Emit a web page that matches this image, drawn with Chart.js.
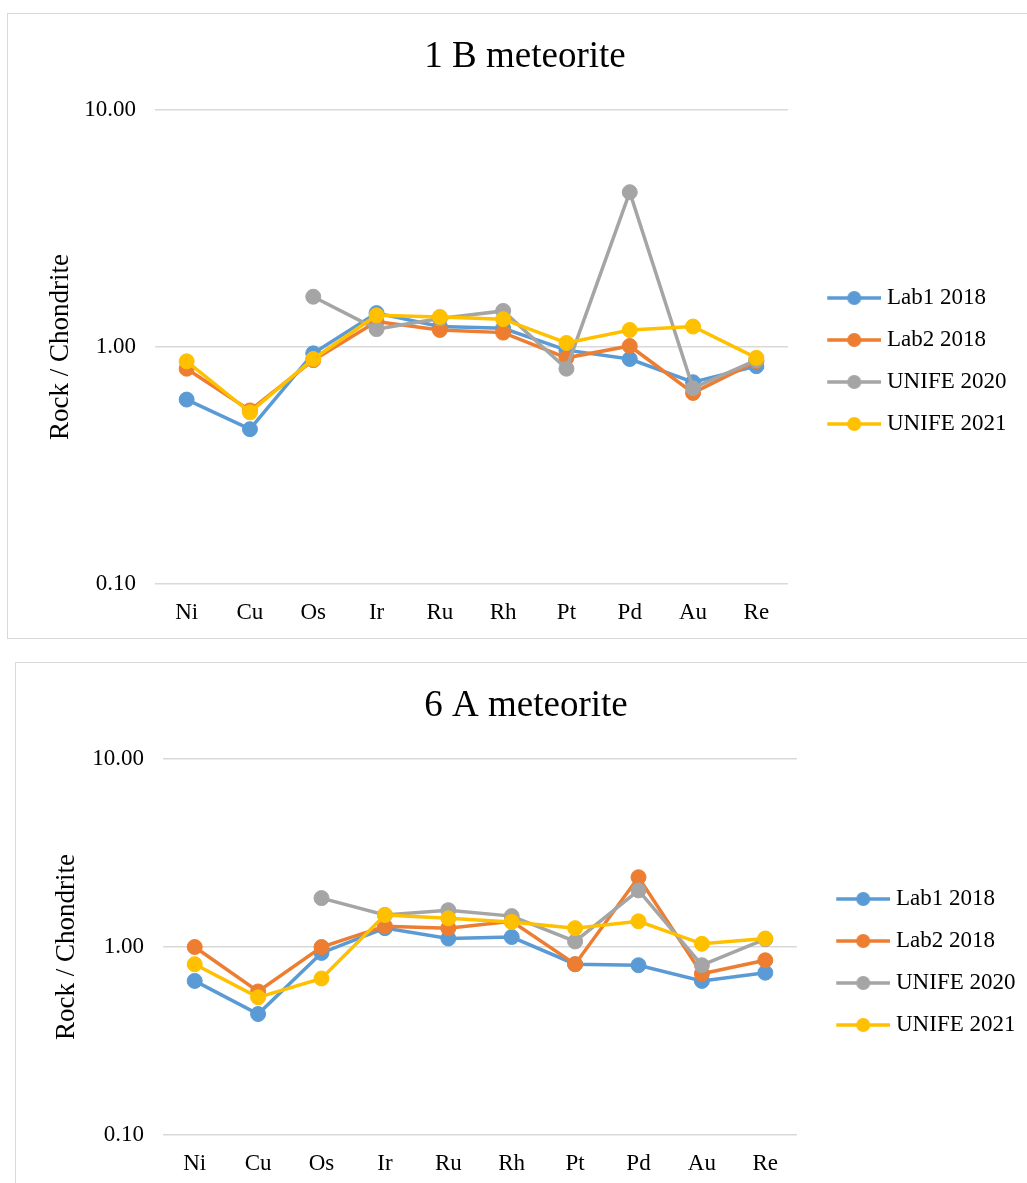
<!DOCTYPE html>
<html>
<head>
<meta charset="utf-8">
<title>Rock / Chondrite</title>
<script src="https://cdn.jsdelivr.net/npm/chart.js@4.4.0/dist/chart.umd.min.js"></script>
<style>
  html, body { margin: 0; padding: 0; background: #fff; overflow: hidden; }
  body { width: 1027px; height: 1183px; position: relative; }
  .box { position: absolute; border: 1px solid #d9d9d9; background: #fff; }
  .box canvas { display: block; }
</style>
</head>
<body>
<div class="box" style="left:7px;top:13px;">
  <canvas id="chart1B" width="1034" height="624"></canvas>
</div>
<div class="box" style="left:15px;top:662px;">
  <canvas id="chart6A" width="1034" height="526"></canvas>
</div>

<script>
var elements = ['Ni', 'Cu', 'Os', 'Ir', 'Ru', 'Rh', 'Pt', 'Pd', 'Au', 'Re'];
var seriesNames = ['Lab1 2018', 'Lab2 2018', 'UNIFE 2020', 'UNIFE 2021'];
var seriesColors = ['#5b9bd5', '#ed7d31', '#a5a5a5', '#ffc000'];
var yTicks = [0.1, 1, 10];

// 1 B meteorite, rock / chondrite ratios
var lab1_1B    = [0.60, 0.45, 0.94, 1.39, 1.22, 1.20, 0.97, 0.89, 0.71, 0.83];
var lab2_1B    = [0.81, 0.54, 0.88, 1.28, 1.18, 1.15, 0.90, 1.01, 0.64, 0.87];
var unife20_1B = [null, null, 1.63, 1.19, 1.32, 1.42, 0.81, 4.50, 0.67, 0.88];
var unife21_1B = [0.87, 0.53, 0.89, 1.36, 1.34, 1.31, 1.04, 1.18, 1.22, 0.90];

// 6 A meteorite
var lab1_6A    = [0.66, 0.44, 0.93, 1.26, 1.11, 1.13, 0.81, 0.80, 0.66, 0.73];
var lab2_6A    = [1.00, 0.58, 1.00, 1.29, 1.26, 1.37, 0.81, 2.35, 0.72, 0.85];
var unife20_6A = [null, null, 1.82, 1.48, 1.57, 1.46, 1.07, 2.00, 0.80, 1.10];
var unife21_6A = [0.81, 0.54, 0.68, 1.48, 1.42, 1.36, 1.26, 1.37, 1.04, 1.11];

var FONT = '"Liberation Serif", "Times New Roman", serif';
var PLOT_LEFT = 147;     // left edge of the plot inside each canvas
var X_AXIS_H = 54;       // room under the plot for the element names
var LEG_PAD = 19;
var LEG_BOX = 68.5;
var LEG_FONT = 23;
var YTITLE_FONT = 27;

// excel style legend symbol: short line with a dot, pushed to the right of its box
function legendMarker(color) {
    var c = document.createElement('canvas');
    c.width = 80;
    c.height = 18;
    var g = c.getContext('2d');
    g.strokeStyle = color;
    g.lineWidth = 3.5;
    g.beginPath();
    g.moveTo(26, 9);
    g.lineTo(80, 9);
    g.stroke();
    g.fillStyle = color;
    g.beginPath();
    g.arc(53, 9, 7, 0, Math.PI * 2);
    g.fill();
    return c;
}
var markers = seriesColors.map(legendMarker);

function textWidth(s, size) {
    var g = document.createElement('canvas').getContext('2d');
    g.font = size + 'px ' + FONT;
    return g.measureText(s).width;
}

function drawChart(o) {
    var canvas = document.getElementById(o.id);
    var W = canvas.width;
    var maxText = Math.max.apply(null, seriesNames.map(function (s) { return textWidth(s, LEG_FONT); }));
    var legendW = LEG_PAD + LEG_BOX + LEG_FONT / 2 + maxText + 10;
    var padR = W - o.plotRight - legendW;
    var padL = 2 * o.titleCenter - W + padR;   // keeps the title where we want it

    var datasets = o.series.map(function (values, i) {
        return {
            label: seriesNames[i],
            data: values,
            borderColor: seriesColors[i],
            backgroundColor: seriesColors[i],
            pointBackgroundColor: seriesColors[i],
            pointBorderColor: seriesColors[i],
            borderWidth: 3.5,
            pointRadius: 7.5,
            pointBorderWidth: 1,
            pointHoverRadius: 7.5,
            tension: 0,
            spanGaps: false,
            order: 3 - i            // later series drawn on top
        };
    });

    new Chart(canvas, {
        type: 'line',
        data: { labels: elements, datasets: datasets },
        options: {
            responsive: false,
            animation: false,
            events: [],
            layout: { padding: { left: padL, right: padR, top: 0, bottom: 0 } },
            plugins: {
                title: {
                    display: true,
                    text: o.title,
                    color: '#000',
                    font: { family: FONT, size: 37, weight: 'normal' },
                    padding: { top: 21, bottom: 30.6 }
                },
                legend: {
                    position: 'right',
                    fullSize: false,
                    align: 'center',
                    // empty legend title just to push the items down a bit
                    title: { display: true, text: '', font: { size: 0 }, padding: { top: o.legendShift, bottom: 0 } },
                    labels: {
                        usePointStyle: true,
                        pointStyleWidth: LEG_BOX,
                        padding: LEG_PAD,
                        color: '#000',
                        font: { family: FONT, size: LEG_FONT },
                        generateLabels: function (chart) {
                            return chart.data.datasets.map(function (ds, i) {
                                return {
                                    text: ds.label,
                                    pointStyle: markers[i],
                                    fillStyle: ds.borderColor,
                                    strokeStyle: ds.borderColor,
                                    lineWidth: 0,
                                    fontColor: '#000',
                                    hidden: false,
                                    datasetIndex: i
                                };
                            });
                        }
                    }
                },
                tooltip: { enabled: false }
            },
            scales: {
                x: {
                    offset: true,
                    afterFit: function (s) { s.height = X_AXIS_H; },
                    grid: { display: false, drawTicks: false },
                    border: { display: false },
                    ticks: {
                        padding: 15.5,
                        color: '#000',
                        autoSkip: false,
                        maxRotation: 0,
                        font: { family: FONT, size: 23 }
                    }
                },
                y: {
                    type: 'logarithmic',
                    min: 0.1,
                    max: 10,
                    afterFit: function (s) { s.width = PLOT_LEFT - padL; },
                    afterBuildTicks: function (s) {
                        s.ticks = yTicks.map(function (v) { return { value: v }; });
                    },
                    grid: { color: '#d9d9d9', lineWidth: 1.5, drawTicks: false },
                    border: { display: false },
                    ticks: {
                        padding: 19,
                        color: '#000',
                        font: { family: FONT, size: 23 },
                        callback: function (v) { return Number(v).toFixed(2); }
                    },
                    title: {
                        display: true,
                        text: 'Rock / Chondrite',
                        color: '#000',
                        font: { family: FONT, size: YTITLE_FONT },
                        padding: { top: o.yTitleX - padL - YTITLE_FONT * 0.6, bottom: 0 }
                    }
                }
            }
        }
    });
}

drawChart({
    id: 'chart1B',
    title: '1 B meteorite',
    titleCenter: 517,
    plotRight: 780,
    yTitleX: 53,
    legendShift: 28,
    series: [lab1_1B, lab2_1B, unife20_1B, unife21_1B]
});

drawChart({
    id: 'chart6A',
    title: '6 A meteorite',
    titleCenter: 510,
    plotRight: 781,
    yTitleX: 51,
    legendShift: 30,
    series: [lab1_6A, lab2_6A, unife20_6A, unife21_6A]
});
</script>
</body>
</html>
